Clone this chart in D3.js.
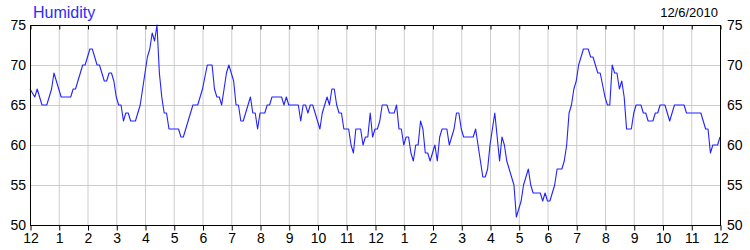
<!DOCTYPE html>
<html><head><meta charset="utf-8">
<script src="https://cdn.jsdelivr.net/npm/d3@7"></script>
<style>body{margin:0;background:#fff}svg{display:block}text{font-family:"Liberation Sans",Arial,sans-serif}</style>
</head><body>
<script>
const title = "Humidity";
const dateLabel = "12/6/2010";
const xTickLabels = ["12","1","2","3","4","5","6","7","8","9","10","11","12","1","2","3","4","5","6","7","8","9","10","11","12"];
const yTicks = [50,55,60,65,70,75];
// minutes after midnight
const minutes = [0,10,15,20,25,35,45,50,55,65,85,90,95,100,105,110,115,125,130,140,145,150,155,160,165,170,175,180,185,190,195,200,205,210,220,225,230,235,240,245,250,255,260,265,270,275,280,285,290,310,315,320,330,340,350,360,370,380,385,390,395,400,410,415,425,430,435,440,445,460,465,470,475,480,
490,495,500,505,525,530,535,540,560,565,570,575,580,585,590,595,600,605,610,615,620,625,630,635,640,645,650,655,665,670,675,680,690,695,700,705,710,715,720,725,730,735,745,750,760,765,770,775,780,785,790,795,800,805,810,815,820,825,830,835,840,845,850,855,860,870,875,880,885,890,895,900,905,925,930,935,940,945,950,955,960,
965,970,980,985,990,995,1000,1005,1010,1015,1020,1025,1030,1040,1045,1050,1065,1070,1075,1080,1085,1090,1095,1100,1110,1115,1120,1125,1130,1135,1140,1145,1150,1155,1165,1170,1175,1180,1185,1190,1200,1205,1210,1215,1220,1225,1230,1235,1240,1245,1255,1260,1265,1275,1280,1285,1290,1300,1305,1310,1315,1325,1330,1335,1340,1345,1365,1370,1400,1405,1410,1415,1420,1425,1435,1440];
const humidity = [67,66,67,66,65,65,67,69,68,66,66,67,67,68,69,70,70,72,72,70,70,69,68,68,69,69,68,66,65,65,63,64,64,63,63,64,65,67,69,71,72,74,73,75,69,66,64,64,62,62,61,61,63,65,65,67,70,70,67,66,66,65,69,70,68,65,65,63,63,66,64,64,62,64,
64,65,65,66,66,65,66,65,65,63,65,65,64,65,65,64,63,62,64,65,66,65,67,67,65,64,64,62,62,60,59,62,62,60,61,61,64,61,62,62,63,65,65,64,64,65,62,62,60,61,61,59,58,60,60,63,62,59,59,58,59,60,58,61,62,62,60,61,62,64,64,62,61,61,62,60,58,56,56,57,60,
62,64,58,61,60,58,57,56,55,51,52,53,55,57,55,54,54,53,54,53,53,54,55,57,57,58,60,64,65,67,68,70,71,72,72,71,71,70,69,69,66,65,65,70,69,69,67,68,66,62,62,64,65,65,64,64,63,63,64,64,65,65,64,63,64,65,65,64,64,63,62,62,59,60,60,61];

const W = 750, H = 250;
const m = {left:30, right:30, top:25, bottom:25};
const svg = d3.select("body").append("svg").attr("width",W).attr("height",H);
const x = d3.scaleLinear().domain([0,1440]).range([m.left, W-m.right]);
const y = d3.scaleLinear().domain([50,75]).range([H-m.bottom, m.top]);
const hourTicks = d3.range(0,1441,60);

// grid
svg.append("g").selectAll("line").data(hourTicks.slice(1,-1)).join("line")
  .attr("x1",d=>x(d)+0.5).attr("x2",d=>x(d)+0.5).attr("y1",y(75)).attr("y2",y(50))
  .attr("stroke","#cccccc").attr("stroke-width",1);
svg.append("g").selectAll("line").data(yTicks.slice(1,-1)).join("line")
  .attr("x1",x(0)).attr("x2",x(1440)).attr("y1",d=>y(d)+0.5).attr("y2",d=>y(d)+0.5)
  .attr("stroke","#cccccc").attr("stroke-width",1);

// line
const line = d3.line().x((d,i)=>x(minutes[i])).y(d=>y(d));
svg.append("path").datum(humidity).attr("d",line).attr("fill","none")
  .attr("stroke","#2222ff").attr("stroke-width",1.1).attr("stroke-linejoin","round");

// frame
svg.append("rect").attr("x",x(0)+0.5).attr("y",y(75)+0.5).attr("width",x(1440)-x(0)).attr("height",y(50)-y(75))
  .attr("fill","none").attr("stroke","#000").attr("stroke-width",1);

// axes
const xb = d3.axisBottom(x).tickValues(hourTicks).tickSize(5).tickPadding(3).tickFormat((d,i)=>xTickLabels[i]);
const gb = svg.append("g").attr("transform",`translate(0.5,${y(50)+0.5})`).call(xb);
gb.select(".domain").remove();
gb.selectAll("text").attr("font-size",14).attr("fill","#000").attr("font-family","Liberation Sans, Arial, sans-serif");
const xt = d3.axisBottom(x).tickValues(hourTicks).tickSize(4).tickFormat("");
const gt = svg.append("g").attr("transform",`translate(0.5,${y(75)+0.5})`).call(xt);
gt.select(".domain").remove();

const yl = d3.axisLeft(y).tickValues(yTicks).tickSize(0).tickPadding(4);
const gl = svg.append("g").attr("transform",`translate(${x(0)},0)`).call(yl);
gl.select(".domain").remove();
gl.selectAll("text").attr("font-size",14).attr("fill","#000").attr("font-family","Liberation Sans, Arial, sans-serif");
const yr = d3.axisRight(y).tickValues(yTicks).tickSize(0).tickPadding(7);
const gr = svg.append("g").attr("transform",`translate(${x(1440)},0)`).call(yr);
gr.select(".domain").remove();
gr.selectAll("text").attr("font-size",14).attr("fill","#000").attr("font-family","Liberation Sans, Arial, sans-serif");

svg.append("text").attr("x",33).attr("y",18).attr("font-size",16).attr("fill","#2b2bff").text(title);
svg.append("text").attr("x",718).attr("y",17).attr("font-size",13).attr("text-anchor","end").attr("fill","#000").text(dateLabel);
</script>
</body></html>
